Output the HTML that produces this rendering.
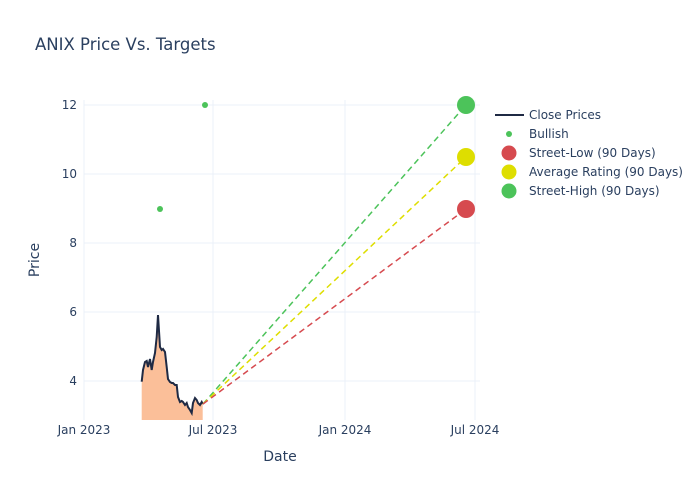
<!DOCTYPE html>
<html><head><meta charset="utf-8"><style>body{margin:0;background:#fff}svg{display:block;font-family:"DejaVu Sans","Liberation Sans",sans-serif}</style></head><body>
<svg width="700" height="500" viewBox="0 0 700 500">
<rect width="700" height="500" fill="#fff"/>
<text x="35" y="50" font-size="16.5" fill="#2a3f5f">ANIX Price Vs. Targets</text>
<g stroke="#ebf0f8" stroke-width="1">
<line x1="84" y1="100" x2="84" y2="420"/><line x1="213" y1="100" x2="213" y2="420"/><line x1="345" y1="100" x2="345" y2="420"/><line x1="475" y1="100" x2="475" y2="420"/>
<line x1="84" y1="381" x2="480" y2="381"/><line x1="84" y1="312" x2="480" y2="312"/><line x1="84" y1="243" x2="480" y2="243"/><line x1="84" y1="174" x2="480" y2="174"/><line x1="84" y1="105" x2="480" y2="105"/>
</g>
<g font-size="12" fill="#2a3f5f" text-anchor="end">
<text x="77" y="385">4</text><text x="77" y="316">6</text><text x="77" y="247">8</text><text x="77" y="178">10</text><text x="77" y="109">12</text>
</g>
<g font-size="12" fill="#2a3f5f" text-anchor="middle">
<text x="84" y="434">Jan 2023</text><text x="213" y="434">Jul 2023</text><text x="345" y="434">Jan 2024</text><text x="475" y="434">Jul 2024</text>
</g>
<text x="280" y="461" font-size="14" fill="#2a3f5f" text-anchor="middle">Date</text>
<text transform="translate(39,260) rotate(-90)" font-size="14" fill="#2a3f5f" text-anchor="middle">Price</text>
<polygon fill="#fbbf99" points="141.7,420 141.7,381.7 143,370 145,362 146.7,361 148,367 150,359 151.7,370 153,362 155,353 156.7,337 158,315 160,347 161.7,350 163,349 165,352 166.7,367 168,379 170,382 171.7,383 173,383 175,385 176.7,385 178,397 180,402 181.7,401 183,402 185,405 186.7,403 188,407 190,410 191.7,413 193,403 195,398 196.7,400 198,403 200,405 201.7,402 202.7,404 202.7,420"/>
<polyline fill="none" stroke="#1f2a44" stroke-width="2" points="141.7,381.7 143,370 145,362 146.7,361 148,367 150,359 151.7,370 153,362 155,353 156.7,337 158,315 160,347 161.7,350 163,349 165,352 166.7,367 168,379 170,382 171.7,383 173,383 175,385 176.7,385 178,397 180,402 181.7,401 183,402 185,405 186.7,403 188,407 190,410 191.7,413 193,403 195,398 196.7,400 198,403 200,405 201.7,402 202.7,404"/>
<g stroke-width="1.5" stroke-dasharray="6,4" fill="none">
<line x1="203" y1="404" x2="466" y2="105" stroke="#4cc35a"/>
<line x1="203" y1="404" x2="466" y2="157" stroke="#dede00"/>
<line x1="203" y1="404" x2="466" y2="209" stroke="#d64a4f"/>
</g>
<circle cx="160" cy="209" r="3" fill="#4cc35a"/><circle cx="205" cy="105" r="3" fill="#4cc35a"/>
<circle cx="466" cy="209" r="9" fill="#d64a4f"/><circle cx="466" cy="157" r="9" fill="#dede00"/><circle cx="466" cy="105" r="9" fill="#4cc35a"/>
<g font-size="12" fill="#2a3f5f">
<line x1="495" y1="115" x2="524" y2="115" stroke="#1f2a44" stroke-width="2"/><text x="529" y="119">Close Prices</text>
<circle cx="509" cy="134" r="3" fill="#4cc35a"/><text x="529" y="138">Bullish</text>
<circle cx="509" cy="153" r="7.5" fill="#d64a4f"/><text x="529" y="157">Street-Low (90 Days)</text>
<circle cx="509" cy="172" r="7.5" fill="#dede00"/><text x="529" y="176">Average Rating (90 Days)</text>
<circle cx="509" cy="191" r="7.5" fill="#4cc35a"/><text x="529" y="195">Street-High (90 Days)</text>
</g>
</svg>
</body></html>
